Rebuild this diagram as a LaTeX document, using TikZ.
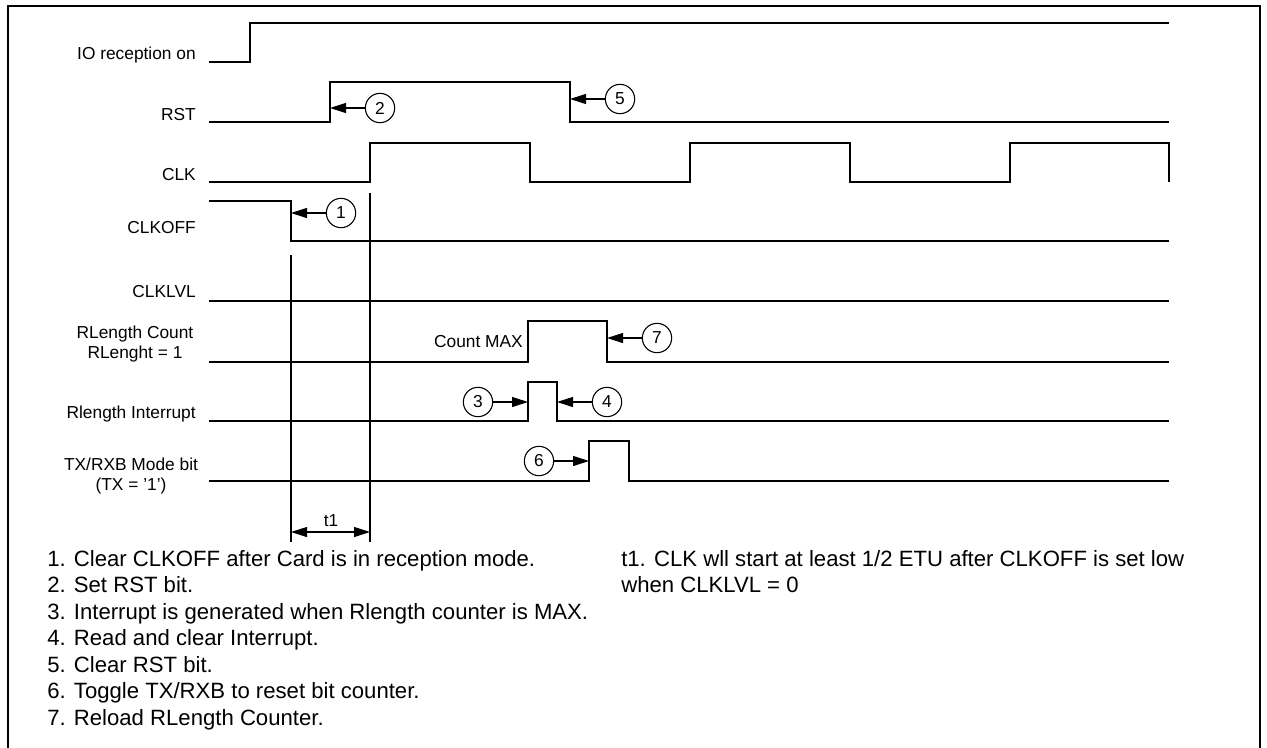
\documentclass[tikz,border=0pt]{standalone}
\usepackage{fontspec}
\setmainfont{Liberation Sans}
\usetikzlibrary{arrows.meta}

\tikzset{
  wave/.style={line width=.8pt},
  signame/.style={font=\fontsize{13}{15}\selectfont, inner sep=0pt},
  stepnum/.style={draw, circle, line width=.8pt, minimum size=22pt, inner sep=0pt, font=\fontsize{13}{15}\selectfont},
  pointer/.style={line width=.8pt, -{Triangle[length=12pt,width=7.5pt]}},
  noteline/.style={font=\fontsize{16.6}{19}\selectfont, inner sep=0pt, anchor=base west}
}

\begin{document}
\begin{tikzpicture}[x=.75pt, y=-.75pt]
\useasboundingbox (0,0) rectangle (1267,747);
\clip (0,0) rectangle (1267,747);
\draw[line width=1.5pt] (8,760) -- (8,6) -- (1260,6) -- (1260,760);

% signal names
\node[signame, anchor=base east] (lio) at (196,59) {IO reception on};
\node[signame, anchor=base east] (lrst) at (196,120) {RST};
\node[signame, anchor=base east] (lclk) at (196,180) {CLK};
\node[signame, anchor=base east] (lclkoff) at (196,233) {CLKOFF};
\node[signame, anchor=base east] (lclklvl) at (196,297) {CLKLVL};
\node[signame, anchor=base] (lrlc) at (135,338) {RLength Count};
\node[signame, anchor=base] (lrlc2) at (135,358) {RLenght = 1};
\node[signame, anchor=base east] (lint) at (196,418) {Rlength Interrupt};
\node[signame, anchor=base] (ltx) at (131,470) {TX/RXB Mode bit};
\node[signame, anchor=base] (ltx2) at (131,490) {(TX = '1')};
\node[signame, anchor=base east] (lmax) at (523,347) {Count MAX};

% waveforms
\draw[wave] (209,62) -- (250,62) -- (250,23) -- (1169,23);
\draw[wave] (209,122) -- (330,122) -- (330,82) -- (570,82) -- (570,122) -- (1169,122);
\draw[wave] (209,182) -- (370,182) -- (370,143) -- (530,143) -- (530,182) -- (690,182) -- (690,143) -- (850,143) -- (850,182) -- (1010,182) -- (1010,143) -- (1169,143) -- (1169,182);
\draw[wave] (209,201) -- (291,201) -- (291,241) -- (1169,241);
\draw[wave] (209,301) -- (1169,301);
\draw[wave] (209,362) -- (528,362) -- (528,321) -- (607,321) -- (607,362) -- (1169,362);
\draw[wave] (209,421) -- (528,421) -- (528,382) -- (557,382) -- (557,421) -- (1169,421);
\draw[wave] (209,481) -- (589,481) -- (589,441) -- (629,441) -- (629,481) -- (1169,481);

% t1 markers
\draw[wave] (291,255) -- (291,542);
\draw[wave] (370,193) -- (370,542);
\coordinate (t1a) at (291,532);
\coordinate (t1b) at (370,532);
\draw[line width=.8pt, {Triangle[length=12pt,width=7.5pt]}-{Triangle[length=12pt,width=7.5pt]}] (t1a) -- (t1b);
\node[signame, anchor=base] (t1) at (331,526) {t1};

% numbered steps
\coordinate (e1) at (291,213);
\node[stepnum] (n1) at (341,213) {1};
\draw[pointer] (n1) -- (e1);
\coordinate (e2) at (330,108);
\node[stepnum] (n2) at (380,108) {2};
\draw[pointer] (n2) -- (e2);
\coordinate (e3) at (528,402);
\node[stepnum] (n3) at (478,402) {3};
\draw[pointer] (n3) -- (e3);
\coordinate (e4) at (557,402);
\node[stepnum] (n4) at (607,402) {4};
\draw[pointer] (n4) -- (e4);
\coordinate (e5) at (570,99);
\node[stepnum] (n5) at (620,99) {5};
\draw[pointer] (n5) -- (e5);
\coordinate (e6) at (589,461);
\node[stepnum] (n6) at (539,461) {6};
\draw[pointer] (n6) -- (e6);
\coordinate (e7) at (607,338);
\node[stepnum] (n7) at (657,338) {7};
\draw[pointer] (n7) -- (e7);

% notes
\node[noteline] (note1) at (47,566) {1. Clear CLKOFF after Card is in reception mode.};
\node[noteline] (note2) at (47,592.5) {2. Set RST bit.};
\node[noteline] (note3) at (47,619) {3. Interrupt is generated when Rlength counter is MAX.};
\node[noteline] (note4) at (47,645.5) {4. Read and clear Interrupt.};
\node[noteline] (note5) at (47,672) {5. Clear RST bit.};
\node[noteline] (note6) at (47,698.5) {6. Toggle TX/RXB to reset bit counter.};
\node[noteline] (note7) at (47,725) {7. Reload RLength Counter.};
\node[noteline] (notet1) at (621,566) {t1. CLK wll start at least 1/2 ETU after CLKOFF is set low};
\node[noteline] (notet1b) at (621,592.5) {when CLKLVL = 0};
\end{tikzpicture}
\end{document}
